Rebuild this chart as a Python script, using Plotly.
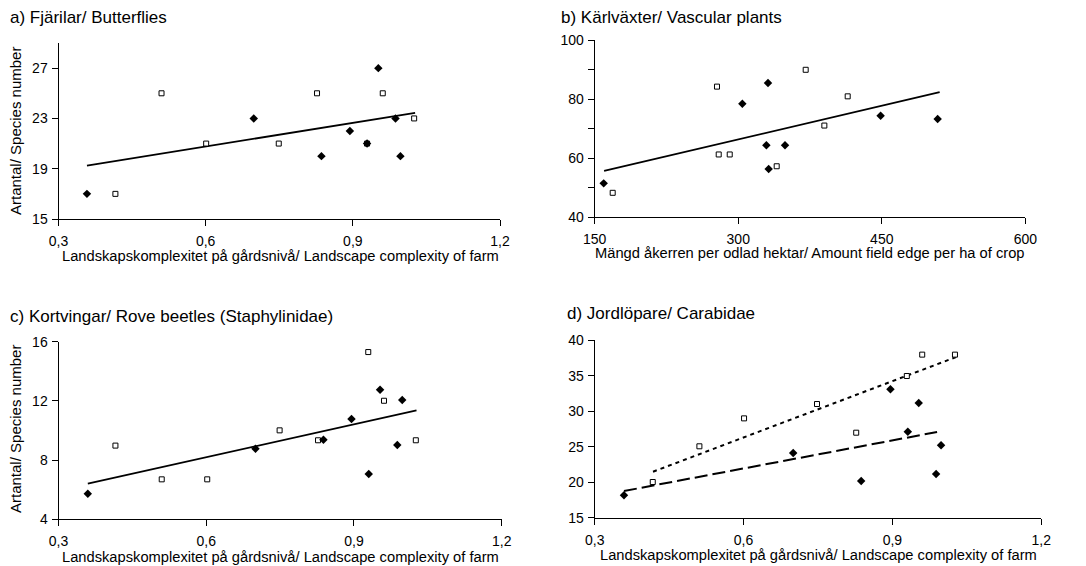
import plotly.graph_objects as go

W, H = 1086, 566
OFF = 8  # the page body adds an 8px margin around the figure

# ---------------- data ----------------
# a) Butterflies
a_fill_x = [0.358, 0.698, 0.836, 0.894, 0.929, 0.952, 0.987, 0.997]
a_fill_y = [17, 23, 20, 22, 21, 27, 23, 20]
a_open_x = [0.416, 0.510, 0.601, 0.749, 0.827, 0.929, 0.961, 1.025]
a_open_y = [17, 25, 21, 21, 25, 21, 25, 23]
a_fit_x = [0.358, 1.027]
a_fit_y = [19.24, 23.45]

# b) Vascular plants
b_fill_x = [159.4, 304.3, 331.1, 329.4, 331.8, 348.9, 448.8, 508.4]
b_fill_y = [51.4, 78.4, 85.4, 64.3, 56.3, 64.3, 74.3, 73.2]
b_open_x = [168.8, 277.8, 279.6, 291.1, 340.2, 370.5, 390.0, 414.4]
b_open_y = [48.2, 84.2, 61.2, 61.2, 57.2, 89.9, 71.0, 80.9]
b_fit_x = [159.8, 510.5]
b_fit_y = [55.6, 82.3]

# c) Rove beetles
c_fill_x = [0.3595, 0.700, 0.838, 0.895, 0.930, 0.953, 0.988, 0.998]
c_fill_y = [5.73, 8.77, 9.38, 10.78, 7.06, 12.76, 9.02, 12.06]
c_open_x = [0.4156, 0.5096, 0.602, 0.749, 0.827, 0.929, 0.961, 1.0256]
c_open_y = [8.98, 6.70, 6.70, 10.01, 9.34, 15.30, 12.01, 9.34]
c_fit_x = [0.3595, 1.027]
c_fit_y = [6.41, 11.36]

# d) Carabidae
d_fill_x = [0.359, 0.700, 0.837, 0.896, 0.931, 0.953, 0.988, 0.998]
d_fill_y = [18.15, 24.12, 20.17, 33.09, 27.12, 31.17, 21.16, 25.20]
d_open_x = [0.417, 0.511, 0.601, 0.748, 0.827, 0.929, 0.960, 1.026]
d_open_y = [20.03, 25.06, 29.00, 31.02, 26.98, 34.97, 37.98, 37.98]
d_fit_open_x = [0.4175, 1.0287]
d_fit_open_y = [21.48, 37.65]
d_fit_fill_x = [0.359, 0.990]
d_fit_fill_y = [18.76, 27.08]

x_ticks = [0.3, 0.6, 0.9, 1.2]
x_ticktext = ["0,3", "0,6", "0,9", "1,2"]
b_xticks = [150, 300, 450, 600]
a_yticks = [15, 19, 23, 27]
b_yticks = [40, 50, 60, 70, 80, 90, 100]
b_yticktext = ["40", "", "60", "", "80", "", "100"]
c_yticks = [4, 8, 12, 16]
d_yticks = [15, 20, 25, 30, 35, 40]

titles = ["a) Fjärilar/ Butterflies", "b) Kärlväxter/ Vascular plants",
          "c) Kortvingar/ Rove beetles (Staphylinidae)", "d) Jordlöpare/ Carabidae"]
xtitle_land = "Landskapskomplexitet på gårdsnivå/ Landscape complexity of farm"
xtitle_edge = "Mängd åkerren per odlad hektar/ Amount field edge per ha of crop"
ytitle = "Artantal/ Species number"

FONT = "Arial, Liberation Sans, sans-serif"

def px(x):
    return (x - OFF) / W

def py(y):
    return 1 - (y - OFF) / H

# plot areas in page pixels: (left, right, top, bottom)
boxes = {
    1: (58.5, 500, 43, 219),
    2: (594.7, 1025.3, 40, 217),
    3: (58.5, 501.7, 341.7, 519.3),
    4: (594.7, 1041.3, 340.3, 517.7),
}

fig = go.Figure()

def add_panel(i, fx, fy, ox, oy, fits):
    xa = "x" if i == 1 else f"x{i}"
    ya = "y" if i == 1 else f"y{i}"
    for (lx, ly, dash, width) in fits:
        fig.add_trace(go.Scatter(x=lx, y=ly, mode="lines", xaxis=xa, yaxis=ya,
                                 line=dict(color="black", width=width, dash=dash),
                                 showlegend=False, hoverinfo="skip"))
    fig.add_trace(go.Scatter(x=ox, y=oy, mode="markers", xaxis=xa, yaxis=ya,
                             marker=dict(symbol="square", size=5, color="white",
                                         line=dict(width=1, color="black")),
                             showlegend=False))
    fig.add_trace(go.Scatter(x=fx, y=fy, mode="markers", xaxis=xa, yaxis=ya,
                             marker=dict(symbol="diamond", size=6.5, color="black",
                                         line=dict(width=0)),
                             showlegend=False))

add_panel(1, a_fill_x, a_fill_y, a_open_x, a_open_y, [(a_fit_x, a_fit_y, "solid", 1.8)])
add_panel(2, b_fill_x, b_fill_y, b_open_x, b_open_y, [(b_fit_x, b_fit_y, "solid", 1.8)])
add_panel(3, c_fill_x, c_fill_y, c_open_x, c_open_y, [(c_fit_x, c_fit_y, "solid", 1.8)])
add_panel(4, d_fill_x, d_fill_y, d_open_x, d_open_y,
          [(d_fit_open_x, d_fit_open_y, "4px,4px", 2), (d_fit_fill_x, d_fit_fill_y, "13px,5px", 2)])

axis_common = dict(showline=True, linecolor="black", linewidth=1, ticks="outside",
                   ticklen=6, tickcolor="black", tickwidth=1, showgrid=False,
                   zeroline=False, automargin=False,
                   tickfont=dict(family=FONT, size=14, color="black"))

layout = dict(width=W, height=H, margin=dict(l=0, r=0, t=0, b=0, pad=0),
              template="none", autosize=False,
              paper_bgcolor="white", plot_bgcolor="white", showlegend=False,
              font=dict(family=FONT, color="black"))

xranges = {1: [0.3, 1.2], 2: [150, 600], 3: [0.3, 1.2], 4: [0.3, 1.2]}
yranges = {1: [15, 29], 2: [40, 100], 3: [4, 16], 4: [15, 40]}
ytv = {1: (a_yticks, [str(v) for v in a_yticks]), 2: (b_yticks, b_yticktext),
       3: (c_yticks, [str(v) for v in c_yticks]), 4: (d_yticks, [str(v) for v in d_yticks])}

for i in range(1, 5):
    l, r, t, b = boxes[i]
    xk = "xaxis" if i == 1 else f"xaxis{i}"
    yk = "yaxis" if i == 1 else f"yaxis{i}"
    xa = "x" if i == 1 else f"x{i}"
    ya = "y" if i == 1 else f"y{i}"
    if i == 2:
        xt = dict(tickvals=b_xticks, ticktext=[str(v) for v in b_xticks])
    else:
        xt = dict(tickvals=x_ticks, ticktext=x_ticktext)
    layout[xk] = dict(domain=[px(l), px(r)], range=xranges[i], anchor=ya,
                      ticklabelstandoff=3, **xt, **axis_common)
    layout[yk] = dict(domain=[py(b), py(t)], range=yranges[i], anchor=xa,
                      ticklabelstandoff=1,
                      tickvals=ytv[i][0], ticktext=ytv[i][1], **axis_common)

fig.update_layout(**layout)

ann = []
title_pos = {1: (8, 17.5), 2: (559, 17.5), 3: (8, 316), 4: (565, 313)}
for i in range(1, 5):
    x0, y0 = title_pos[i]
    ann.append(dict(text=titles[i - 1], x=px(x0), y=py(y0), xref="paper", yref="paper",
                    xanchor="left", yanchor="middle", showarrow=False,
                    font=dict(family=FONT, size=17, color="black")))
xt_pos = {1: (280, 256, xtitle_land), 2: (809, 253.5, xtitle_edge),
          3: (280, 556.5, xtitle_land), 4: (818, 555, xtitle_land)}
for i in range(1, 5):
    x0, y0, txt = xt_pos[i]
    ann.append(dict(text=txt, x=px(x0), y=py(y0), xref="paper", yref="paper",
                    xanchor="center", yanchor="middle", showarrow=False,
                    font=dict(family=FONT, size=14.7, color="black")))
for (yc) in [131, 429]:
    ann.append(dict(text=ytitle, x=px(15), y=py(yc), xref="paper", yref="paper",
                    xanchor="center", yanchor="middle", showarrow=False, textangle=-90,
                    font=dict(family=FONT, size=15, color="black")))
fig.update_layout(annotations=ann)

fig.write_html("out.html")
